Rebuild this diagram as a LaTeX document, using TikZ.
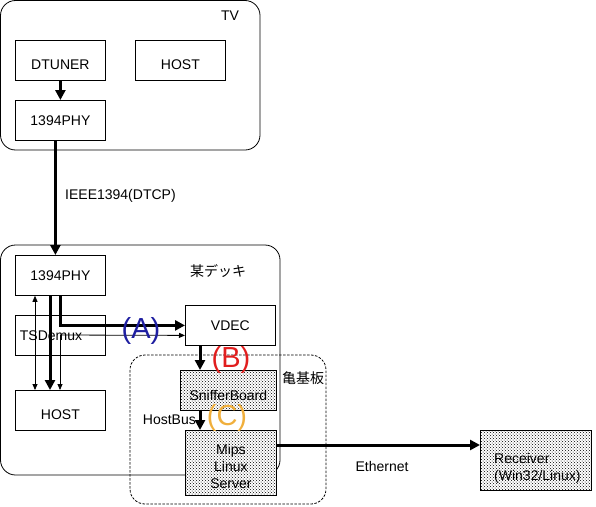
\documentclass[tikz,border=0pt]{standalone}
\usepackage{fontspec}
\setmainfont{Liberation Sans}
\newfontfamily\cjk{Noto Sans CJK JP}
\usetikzlibrary{arrows.meta,patterns,calc}
\definecolor{labA}{RGB}{30,30,160}
\definecolor{labB}{RGB}{225,30,30}
\definecolor{labC}{RGB}{240,175,60}
\tikzset{
  box/.style={draw, line width=0.8pt, fill=white, minimum width=90pt, minimum height=40pt, anchor=north west, inner sep=0pt, font=\fontsize{14}{17}\selectfont},
  dotbox/.style={box, fill=white, postaction={pattern=crosshatch dots, pattern color=black}},
  container/.style={draw, line width=0.8pt, rounded corners=15pt},
  thickarrow/.style={line width=3pt, -{Triangle[length=10pt,width=10pt]}},
  thinarrow/.style={line width=0.8pt, -{Triangle[length=6pt,width=5pt]}},
  lbl/.style={font=\fontsize{14}{17}\selectfont, inner sep=0pt},
  big/.style={font=\fontsize{29}{31}\selectfont, inner sep=0pt}
}
\begin{document}
\begin{tikzpicture}[x=1pt,y=-1pt]
\useasboundingbox (0,0) rectangle (596,506);
% containers
\draw[container] (0.5,0.5) rectangle (260,150);
\draw[container] (0.5,245) rectangle (280,475);
\draw[line width=0.8pt, dash pattern=on 2.5pt off 1.5pt, rounded corners=15pt] (130,355) rectangle (326,504);
% TV
\node[lbl] (tvlabel) at (230,16) {TV};
\node[box, label={[lbl, yshift=-4pt]center:DTUNER}] (dtuner) at (15,40) {};
\node[box, label={[lbl, yshift=-4pt]center:HOST}] (tvhost) at (135,40) {};
\node[box] (tvphy) at (15,100) {1394PHY};
% Deck
\node[lbl] (decklabel) at (218,271) {\cjk 某デッキ};
\node[box] (dphy) at (15,255) {1394PHY};
\node[box] (tsdemux) at (15,315) {};
\node[lbl] (tstext) at (51,336) {TSDemux};
\node[box, label={[lbl, yshift=-4pt]center:HOST}] (dhost) at (15,390) {};
\node[box] (vdec) at (185,305) {VDEC};
% kame board
\node[lbl] (kamelabel) at (303,378) {\cjk 亀基板};
\node[dotbox, minimum width=96pt, label={[lbl, yshift=-5pt]center:SnifferBoard}] (sniffer) at (180,370) {};
\node[dotbox, minimum width=91pt, minimum height=65pt, label={[lbl, align=center, font=\fontsize{14}{17}\selectfont, yshift=-4pt]center:Mips\\Linux\\Server}] (mips) at (185,430) {};
\node[dotbox, minimum width=111pt, minimum height=60pt, label={[lbl, align=left, font=\fontsize{14}{17}\selectfont, anchor=west, yshift=-8pt, xshift=14pt]west:Receiver\\(Win32/Linux)}] (recv) at (480,430) {};
% connectors TV
\draw[thickarrow] (dtuner) -- (tvphy);
\draw[thickarrow] ([xshift=-5pt]tvphy.south) -- ([xshift=-5pt]dphy.north);
\node[lbl, anchor=west] (ieee) at (65,196) {IEEE1394(DTCP)};
% deck connectors
\draw[line width=0.8pt, {Triangle[length=6pt,width=5pt]}-{Triangle[length=6pt,width=5pt]}] ([xshift=20pt]dphy.south west) -- ([xshift=20pt]dhost.north west);
\draw[thickarrow] ([xshift=35pt]dphy.south west) -- ([xshift=35pt]dhost.north west);
\draw[thickarrow] ([xshift=45pt]dphy.south west) |- (vdec.west);
\coordinate (split) at (60,335);
\draw[thinarrow] (split) -- ([yshift=-10pt]vdec.west);
\draw[thinarrow] (split) -- (split |- dhost.north);
\draw[thickarrow] ([xshift=15pt]vdec.south west) -- ([xshift=15pt]vdec.south west |- sniffer.north);
\draw[thickarrow] ([xshift=20pt]sniffer.south west) -- ([xshift=20pt]sniffer.south west |- mips.north);
\node[lbl, anchor=east] (hostbus) at (196,420) {HostBus};
\draw[thickarrow] ([yshift=-15pt]mips.north east) -- ([yshift=-15pt]recv.north west);
\node[lbl] (eth) at (382,466) {Ethernet};
% big labels
\node[big, text=labA] (labelA) at (141,331) {(A)};
\node[big, text=labB] (labelB) at (231,360) {(B)};
\node[big, text=labC] (labelC) at (227,418) {(C)};
\end{tikzpicture}
\end{document}
